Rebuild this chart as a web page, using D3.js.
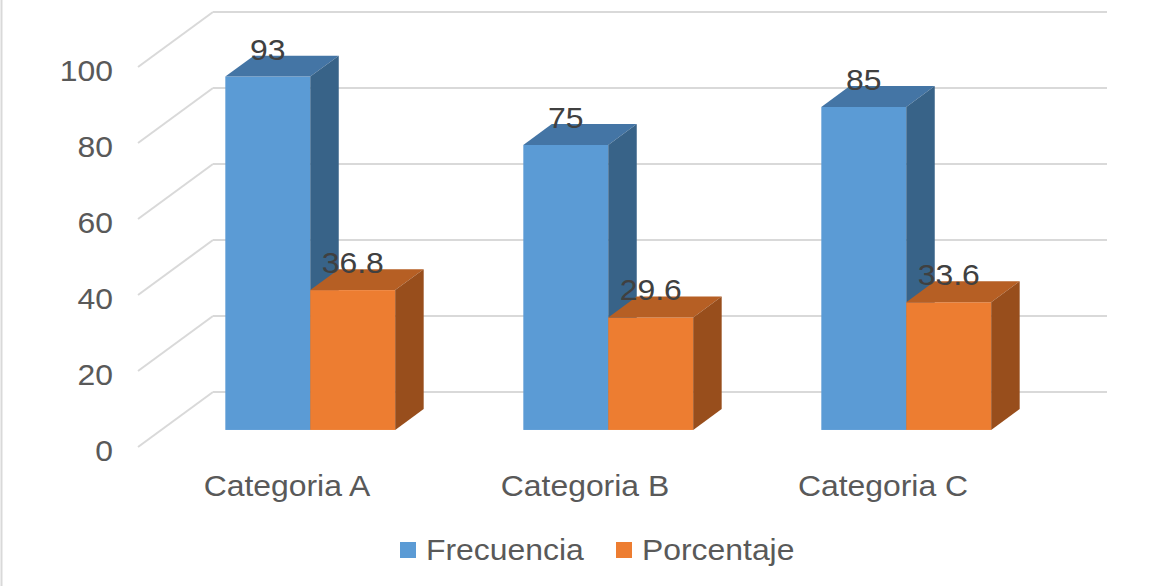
<!DOCTYPE html>
<html>
<head>
<meta charset="utf-8">
<script src="https://cdn.jsdelivr.net/npm/d3@7"></script>
<style>
  html, body { margin: 0; padding: 0; background: #fff; }
  svg { display: block; }
  text { font-family: Arial, "Liberation Sans", sans-serif; }
</style>
</head>
<body>
<svg id="chart" width="1167" height="586"></svg>
<script>
// Chart data
const categories = ["Categoria A", "Categoria B", "Categoria C"];
const seriesNames = ["Frecuencia", "Porcentaje"];
const frecuencia = [93, 75, 85];
const porcentaje = [36.8, 29.6, 33.6];
const yTicks = [0, 20, 40, 60, 80, 100];

const seriesValues = [frecuencia, porcentaje];
const faceColors = [
  { front: "#5B9BD5", top: "#4475A5", side: "#386388" },
  { front: "#ED7D31", top: "#B65F24", side: "#984E1C" }
];

const W = 1167, H = 586;
const svg = d3.select("#chart");

// Oblique projection: floor depth runs from the front plane (0) to the back wall (1)
const depthX = 75, depthY = -55;
const proj = (x, y, d) => [x + depthX * d, y + depthY * d];

// Scales on the front plane
const y = d3.scaleLinear().domain([0, 100]).range([447, 67]);
const floorX = d3.scaleBand().domain(categories).range([138, 1032]);
const x = d3.scaleBand().domain(categories).range(floorX.range())
  .paddingInner(0.43).paddingOuter(0.215);
const xs = d3.scaleBand().domain(seriesNames).range([0, x.bandwidth()]);

// Bars occupy the middle slice of the floor depth
const d0 = 0.31, d1 = 0.69;

const TEXT_STRETCH = 1.1;

// Left border of the chart area
svg.append("line")
  .attr("x1", 1.5).attr("x2", 1.5).attr("y1", 0).attr("y2", H)
  .attr("stroke", "#D9D9D9").attr("stroke-width", 2);

// Gridlines on the back wall and side wall
const [fx0, fx1] = floorX.range();
const grid = svg.append("g").attr("stroke", "#D9D9D9").attr("stroke-width", 2).attr("fill", "none");
yTicks.forEach(t => {
  const [bx0, by] = proj(fx0, y(t), 1);
  const [bx1] = proj(fx1, y(t), 1);
  grid.append("line").attr("x1", bx0).attr("y1", by).attr("x2", bx1).attr("y2", by);
  grid.append("line").attr("x1", fx0).attr("y1", y(t)).attr("x2", bx0).attr("y2", by);
});

// Y axis labels
svg.append("g").selectAll("text").data(yTicks).join("text")
  .attr("transform", d => `translate(113,${y(d) + 13.5}) scale(${TEXT_STRETCH},1)`)
  .attr("text-anchor", "end")
  .attr("font-size", 29)
  .attr("fill", "#595959")
  .text(d => d);

// Category labels
svg.append("g").selectAll("text").data(categories).join("text")
  .attr("transform", d => `translate(${floorX(d) + floorX.bandwidth() / 2},496) scale(${TEXT_STRETCH},1)`)
  .attr("text-anchor", "middle")
  .attr("font-size", 29)
  .attr("fill", "#595959")
  .text(d => d);

// 3D bars
const bars = svg.append("g");
const labels = [];
categories.forEach((cat, ci) => {
  seriesNames.forEach((s, si) => {
    const v = seriesValues[si][ci];
    const c = faceColors[si];
    const bx0 = x(cat) + xs(s), bx1 = bx0 + xs.bandwidth();
    const [ax0, ayTop] = proj(bx0, y(v), d0);
    const [ax1, ayBot] = proj(bx1, y(0), d0);
    const ddx = depthX * (d1 - d0), ddy = depthY * (d1 - d0);
    // front face
    bars.append("rect")
      .attr("x", ax0).attr("y", ayTop)
      .attr("width", ax1 - ax0).attr("height", ayBot - ayTop)
      .attr("fill", c.front);
    // top face
    bars.append("polygon")
      .attr("points", [[ax0, ayTop], [ax1, ayTop], [ax1 + ddx, ayTop + ddy], [ax0 + ddx, ayTop + ddy]].map(p => p.join(",")).join(" "))
      .attr("fill", c.top);
    // side face
    bars.append("polygon")
      .attr("points", [[ax1, ayTop], [ax1 + ddx, ayTop + ddy], [ax1 + ddx, ayBot + ddy], [ax1, ayBot]].map(p => p.join(",")).join(" "))
      .attr("fill", c.side);
    labels.push({ v, cx: (ax0 + ax1) / 2, top: ayTop });
  });
});

// Value labels
svg.append("g").selectAll("text").data(labels).join("text")
  .attr("transform", d => `translate(${d.cx},${d.top - 17}) scale(${TEXT_STRETCH},1)`)
  .attr("text-anchor", "middle")
  .attr("font-size", 29)
  .attr("fill", "#404040")
  .text(d => d.v);

// Legend
const legend = svg.append("g");
const legendX = [400, 616];
seriesNames.forEach((s, i) => {
  legend.append("rect")
    .attr("x", legendX[i]).attr("y", 542).attr("width", 16).attr("height", 16)
    .attr("fill", faceColors[i].front);
  legend.append("text")
    .attr("transform", `translate(${legendX[i] + 26},560) scale(${TEXT_STRETCH},1)`)
    .attr("font-size", 29)
    .attr("fill", "#595959")
    .text(s);
});
</script>
</body>
</html>
